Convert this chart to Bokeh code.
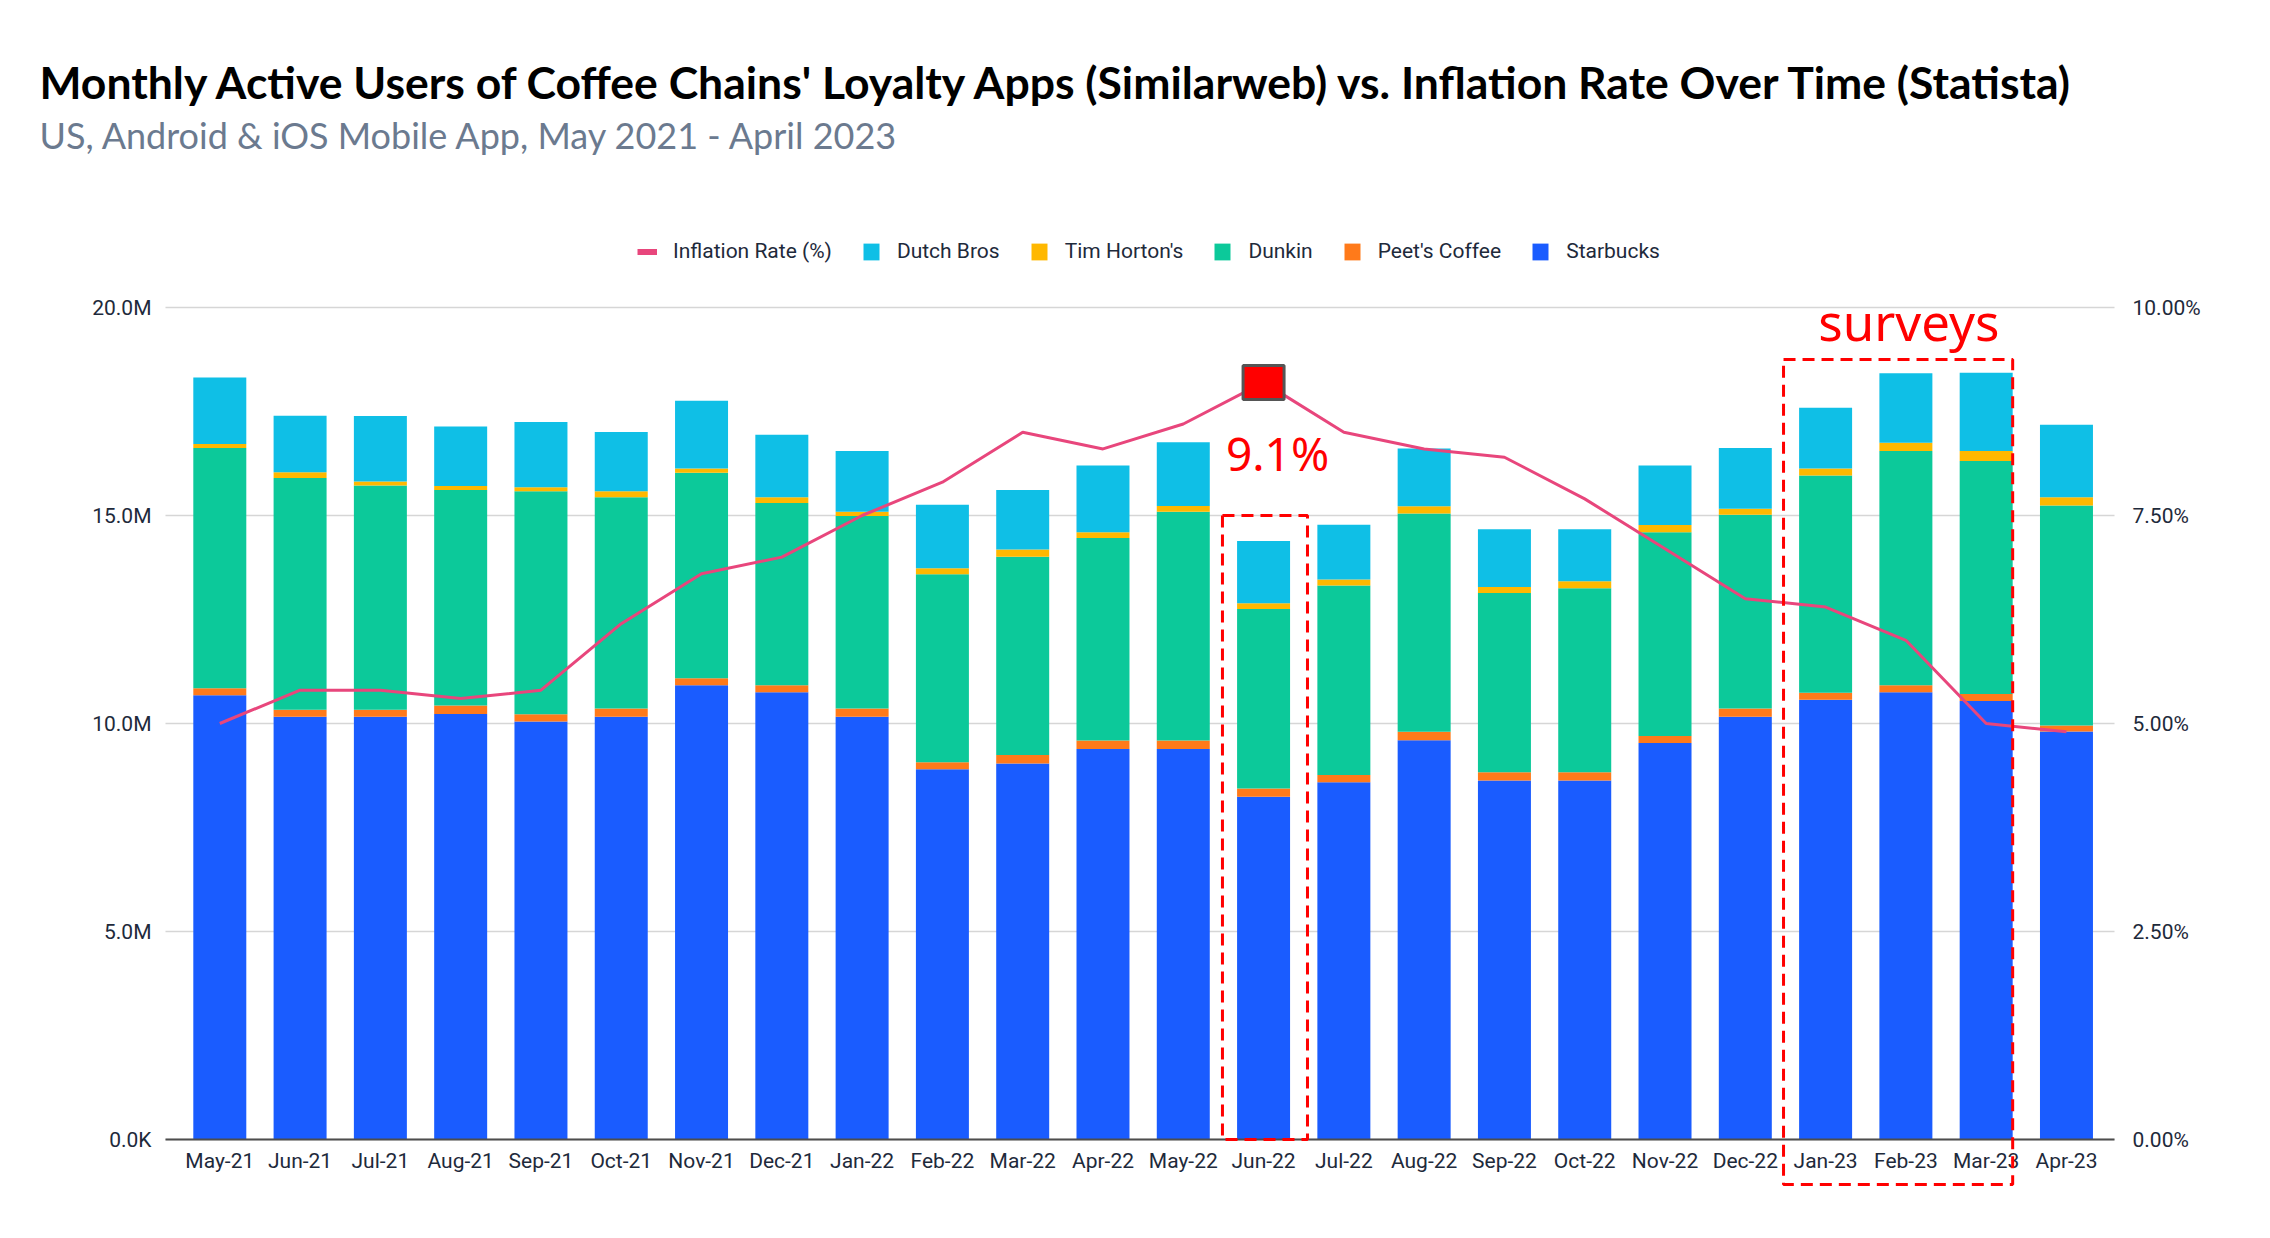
import numpy as np
from bokeh.plotting import figure
from bokeh.models import (Range1d, LinearAxis, FixedTicker, Legend, LegendItem,
                          Label, BoxAnnotation, ColumnDataSource)
from bokeh.embed import file_html
from bokeh.resources import INLINE

title_text = "Monthly Active Users of Coffee Chains' Loyalty Apps (Similarweb) vs. Inflation Rate Over Time (Statista)"
subtitle_text = "US, Android & iOS Mobile App, May 2021 - April 2023"

months = ["May-21", "Jun-21", "Jul-21", "Aug-21", "Sep-21", "Oct-21", "Nov-21", "Dec-21",
          "Jan-22", "Feb-22", "Mar-22", "Apr-22", "May-22", "Jun-22", "Jul-22", "Aug-22",
          "Sep-22", "Oct-22", "Nov-22", "Dec-22", "Jan-23", "Feb-23", "Mar-23", "Apr-23"]
# monthly active users, millions
starbucks = [10.68, 10.16, 10.16, 10.23, 10.05, 10.16, 10.92, 10.75, 10.16, 8.90, 9.04, 9.39,
             9.39, 8.24, 8.59, 9.60, 8.63, 8.63, 9.53, 10.16, 10.57, 10.75, 10.54, 9.81]
peets = [0.17, 0.17, 0.17, 0.20, 0.17, 0.20, 0.17, 0.17, 0.20, 0.17, 0.20, 0.20,
         0.20, 0.20, 0.17, 0.20, 0.20, 0.20, 0.17, 0.20, 0.17, 0.17, 0.17, 0.14]
dunkin = [5.77, 5.57, 5.39, 5.18, 5.36, 5.08, 4.94, 4.38, 4.63, 4.52, 4.77, 4.87,
          5.50, 4.31, 4.56, 5.25, 4.31, 4.42, 4.90, 4.66, 5.22, 5.63, 5.60, 5.29]
tim_hortons = [0.10, 0.14, 0.10, 0.10, 0.10, 0.14, 0.10, 0.14, 0.10, 0.14, 0.17, 0.14,
               0.14, 0.14, 0.14, 0.17, 0.14, 0.17, 0.17, 0.14, 0.17, 0.20, 0.24, 0.20]
dutch_bros = [1.60, 1.36, 1.57, 1.43, 1.57, 1.43, 1.63, 1.50, 1.46, 1.53, 1.43, 1.60,
              1.53, 1.50, 1.32, 1.39, 1.39, 1.25, 1.43, 1.46, 1.46, 1.67, 1.88, 1.74]
# inflation rate, %
inflation = [5.0, 5.4, 5.4, 5.3, 5.4, 6.2, 6.8, 7.0, 7.5, 7.9, 8.5, 8.3,
             8.6, 9.1, 8.5, 8.3, 8.2, 7.7, 7.1, 6.5, 6.4, 6.0, 5.0, 4.9]

left_ticks = [0, 5, 10, 15, 20]
left_tick_labels = ["0.0K", "5.0M", "10.0M", "15.0M", "20.0M"]
right_ticks = [0, 2.5, 5, 7.5, 10]
right_tick_labels = ["0.00%", "2.50%", "5.00%", "7.50%", "10.00%"]
survey_months = ["Jan-23", "Feb-23", "Mar-23"]

# ---------------- layout (pixels, origin top-left) ----------------
FIG_W, FIG_H = 2254, 1222
X0_PX, UNIT_PX = 219.3, 80.29      # first category centre, category pitch
Y0_PX, PX_PER_UNIT = 1139.0, 41.6  # zero line, pixels per million
PLOT_L_PX, PLOT_R_PX = 165, 2114   # left / right edge of the plotting area
R_SCALE = right_ticks[-1] / left_ticks[-1]

def px2x(px):
    return (px - X0_PX) / UNIT_PX

def px2y(py):
    return (Y0_PX - py) / PX_PER_UNIT

x = list(range(len(months)))
src = ColumnDataSource(dict(x=x, starbucks=starbucks, peets=peets, dunkin=dunkin,
                            tim=tim_hortons, dutch=dutch_bros, infl=inflation))

TXT = "#1E2A3B"
p = figure(width=FIG_W, height=FIG_H, title=None,
           x_range=Range1d(px2x(0), px2x(FIG_W)), y_range=Range1d(px2y(FIG_H), px2y(0)),
           output_backend="svg", toolbar_location=None,
           min_border=0, min_border_left=0, min_border_right=0, min_border_top=0, min_border_bottom=0)
p.extra_y_ranges = {"infl": Range1d(px2y(FIG_H) * R_SCALE, px2y(0) * R_SCALE),
                    "hidden": Range1d(1000, 2000)}
p.outline_line_color = None
p.xgrid.visible = False
p.ygrid.visible = False

xl, xr = px2x(PLOT_L_PX), px2x(PLOT_R_PX)

# horizontal grid lines at the left-axis ticks, limited to the plotting area
p.segment(x0=[xl] * len(left_ticks), x1=[xr] * len(left_ticks), y0=left_ticks, y1=left_ticks,
          line_color="#D6D6D6", line_width=1.5)

def style_axis(ax):
    ax.axis_line_color = None
    ax.major_tick_line_color = None
    ax.minor_tick_line_color = None
    ax.major_label_text_font = "Roboto"
    ax.major_label_text_font_size = "21px"
    ax.major_label_text_color = TXT

yl = p.yaxis[0]
yl.ticker = FixedTicker(ticks=left_ticks)
yl.major_label_overrides = dict(zip(left_ticks, left_tick_labels))
style_axis(yl)
yl.fixed_location = xl
yl.major_label_standoff = 8

yr = LinearAxis(y_range_name="infl", ticker=FixedTicker(ticks=right_ticks),
                major_label_overrides=dict(zip(right_ticks, right_tick_labels)))
style_axis(yr)
yr.fixed_location = xr
yr.major_label_standoff = 12
p.add_layout(yr, "right")

xa = p.xaxis[0]
xa.ticker = FixedTicker(ticks=x)
xa.major_label_overrides = dict(zip(x, months))
style_axis(xa)
xa.fixed_location = 0
xa.bounds = (xl, xr)
xa.axis_line_color = "#4D4D4D"
xa.axis_line_width = 2
xa.major_label_standoff = 3

stack_keys = ["starbucks", "peets", "dunkin", "tim", "dutch"]
colors = ["#1A5CFF", "#FF7A1A", "#0CC99A", "#FFB800", "#0FBFE6"]
bars = p.vbar_stack(stack_keys, x="x", width=0.66, fill_color=colors, line_color=None, source=src)

pink = "#E8467C"
line_r = p.line("x", "infl", source=src, y_range_name="infl", line_color=pink, line_width=3)
# legend swatch proxy (thicker), its data lies outside the visible range
proxy = p.line("x", "infl", source=src, y_range_name="hidden", line_color=pink, line_width=6)

# peak annotation
peak = int(np.argmax(inflation))
p.rect(x=[peak], y=[inflation[peak]], width=41, height=34, width_units="screen",
       height_units="screen", y_range_name="infl", fill_color="#FF0000",
       line_color="#555555", line_width=3)
p.add_layout(Label(x=peak, y=inflation[peak], y_range_name="infl", text=f"{inflation[peak]}%",
                   x_offset=14, y_offset=-71, text_align="center", text_baseline="alphabetic",
                   text_font="Noto Sans", text_font_size="46px", text_color="#FF0000"))
p.add_layout(BoxAnnotation(left=peak - 0.512, right=peak + 0.547, bottom=0, top=15.0,
                           fill_color=None, line_color="#FF0000", line_alpha=1.0,
                           line_width=3, line_dash="12 7"))

# surveys annotation
s_idx = [months.index(m) for m in survey_months]
box_top = px2y(359)
p.add_layout(BoxAnnotation(left=min(s_idx) - 0.524, right=max(s_idx) + 0.33,
                           bottom=px2y(1184), top=box_top,
                           fill_color=None, line_color="#FF0000", line_alpha=1.0,
                           line_width=3, line_dash="12 7"))
p.add_layout(Label(x=float(np.mean(s_idx)), y=box_top, text="surveys", x_offset=3, y_offset=39,
                   text_align="center", text_baseline="alphabetic",
                   text_font="Noto Sans", text_font_size="51px", text_color="#FF0000"))

# legend (absolute position: pixels from the bottom-left corner)
legend = Legend(items=[LegendItem(label="Inflation Rate (%)", renderers=[proxy]),
                       LegendItem(label="Dutch Bros", renderers=[bars[4]]),
                       LegendItem(label="Tim Horton's", renderers=[bars[3]]),
                       LegendItem(label="Dunkin", renderers=[bars[2]]),
                       LegendItem(label="Peet's Coffee", renderers=[bars[1]]),
                       LegendItem(label="Starbucks", renderers=[bars[0]])],
                orientation="horizontal", location=(637, FIG_H - 263),
                label_text_font="Roboto", label_text_font_size="21px", label_text_color=TXT,
                glyph_width=20, glyph_height=21, label_height=21, label_standoff=16, spacing=29,
                padding=0, margin=0, border_line_color=None, background_fill_alpha=0)
p.add_layout(legend, "center")

# title and subtitle
p.add_layout(Label(x=px2x(39), y=px2y(81), text=title_text, text_align="left",
                   text_baseline="alphabetic", text_font="Lato", text_font_style="bold",
                   text_font_size="44.5px", text_color="#000000"))
p.add_layout(Label(x=px2x(39), y=px2y(134), text=subtitle_text, text_align="left",
                   text_baseline="alphabetic", text_font="Lato", text_font_style="normal",
                   text_font_size="36px", text_color="#6B7A8F"))

open("out.html", "w").write(file_html(p, INLINE))
